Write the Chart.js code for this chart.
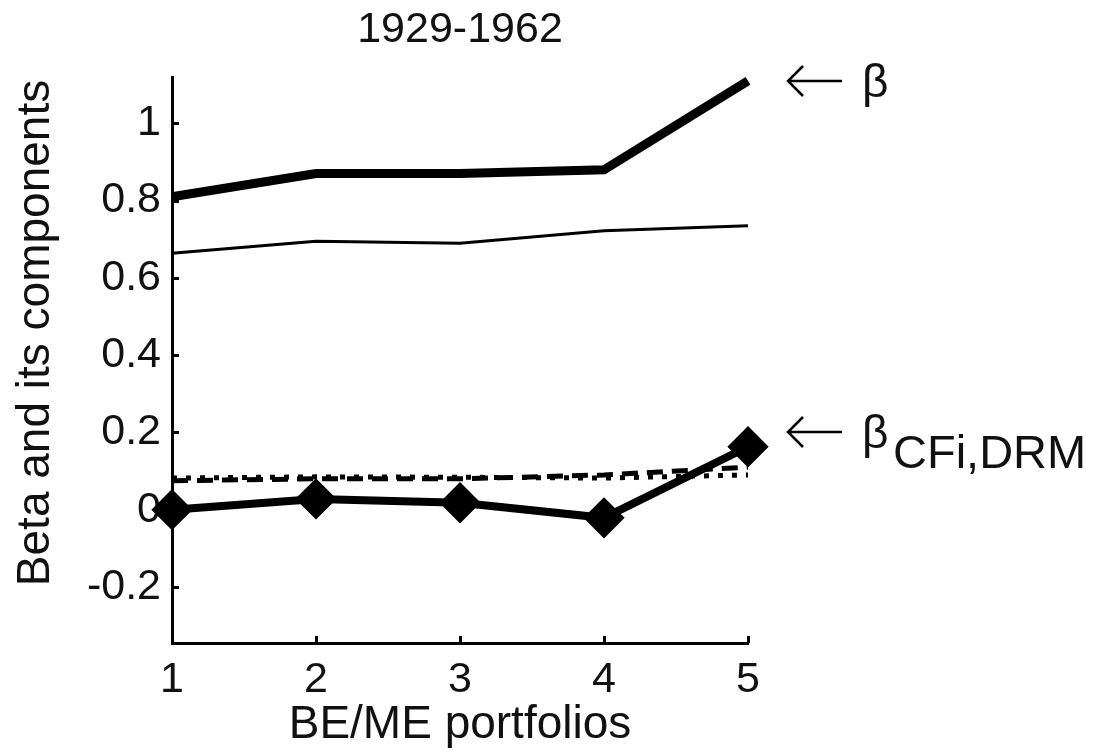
<!DOCTYPE html>
<html>
<head>
<meta charset="utf-8">
<script src="https://cdn.jsdelivr.net/npm/chart.js@4/dist/chart.umd.min.js"></script>
<style>
  html, body { margin: 0; padding: 0; background: #fff; }
  #wrap { width: 1093px; height: 753px; position: relative; }
</style>
</head>
<body>
<div id="wrap"><canvas id="c" width="1093" height="753"></canvas></div>
<script>
// ---- data ----
const categories = ['1', '2', '3', '4', '5'];
const betaTotal   = [0.81, 0.87, 0.87, 0.88, 1.11];
const betaThin    = [0.664, 0.695, 0.69, 0.722, 0.735];
const betaCFiDRM  = [0.0, 0.028, 0.018, -0.021, 0.163];
const betaDashed  = [0.075, 0.08, 0.08, 0.09, 0.11];
const betaDotted  = [0.082, 0.085, 0.084, 0.082, 0.09];
const yTickValues = [-0.2, 0, 0.2, 0.4, 0.6, 0.8, 1];
const titleText = '1929-1962';
const xTitleText = 'BE/ME portfolios';
const yTitleText = 'Beta and its components';

const FONT = "'Liberation Sans', Arial, sans-serif";

const decorPlugin = {
  id: 'decor',
  afterDraw(chart) {
    const ctx = chart.ctx;
    const ca = chart.chartArea;
    const xs = chart.scales.x, ys = chart.scales.y;
    ctx.save();
    // inward tick marks
    ctx.strokeStyle = '#000';
    ctx.lineWidth = 3;
    ctx.beginPath();
    yTickValues.forEach(v => {
      const py = Math.round(ys.getPixelForValue(v)) + 0.5;
      ctx.moveTo(ca.left, py);
      ctx.lineTo(ca.left + 7, py);
    });
    categories.forEach((c, i) => {
      const px = Math.round(xs.getPixelForValue(i)) + 0.5;
      ctx.moveTo(px, ca.bottom);
      ctx.lineTo(px, ca.bottom - 7);
    });
    ctx.stroke();

    // title
    ctx.fillStyle = '#111';
    ctx.font = '43px ' + FONT;
    ctx.textAlign = 'center';
    ctx.textBaseline = 'middle';
    ctx.fillText(titleText, (ca.left + ca.right) / 2, 30);

    // y title
    ctx.save();
    ctx.translate(36, 333);
    ctx.rotate(-Math.PI / 2);
    ctx.font = '46px ' + FONT;
    ctx.fillText(yTitleText, 0, 0);
    ctx.restore();

    // annotations
    ctx.textAlign = 'left';
    ctx.textBaseline = 'alphabetic';
    ctx.font = '46px ' + FONT;
    const arrow = (x0, x1, y) => {
      ctx.lineWidth = 2.5;
      ctx.beginPath();
      ctx.moveTo(x0, y); ctx.lineTo(x1, y);
      ctx.moveTo(x0 + 15, y - 15); ctx.lineTo(x0, y); ctx.lineTo(x0 + 15, y + 15);
      ctx.stroke();
    };
    arrow(788, 842, 81);
    ctx.fillText('β', 862, 97);
    arrow(788, 842, 432);
    ctx.fillText('β', 862, 448);
    ctx.font = '47px ' + FONT;
    ctx.fillText('CFi,DRM', 893, 468);
    ctx.restore();
  }
};

new Chart(document.getElementById('c'), {
  type: 'line',
  data: {
    labels: categories,
    datasets: [
      { data: betaCFiDRM, borderColor: '#000', backgroundColor: '#000', borderWidth: 8,
        pointStyle: 'rectRot', pointRadius: 15, pointHoverRadius: 15, tension: 0, clip: false },
      { data: betaTotal, borderColor: '#000', borderWidth: 9, pointRadius: 0, tension: 0, clip: false },
      { data: betaThin, borderColor: '#000', borderWidth: 3, pointRadius: 0, tension: 0, clip: false },
      { data: betaDashed, borderColor: '#000', borderWidth: 5, borderDash: [16, 9], pointRadius: 0, tension: 0, clip: false },
      { data: betaDotted, borderColor: '#000', borderWidth: 5, borderDash: [5, 9], pointRadius: 0, tension: 0, clip: false }
    ]
  },
  options: {
    responsive: false,
    animation: false,
    devicePixelRatio: 1,
    layout: { padding: { left: 0, top: 77, right: 345, bottom: 0 } },
    plugins: { legend: { display: false }, tooltip: { enabled: false }, title: { display: false } },
    scales: {
      x: {
        type: 'category',
        offset: false,
        grid: { display: true, drawOnChartArea: false, drawTicks: false },
        border: { display: true, color: '#000', width: 3 },
        ticks: { color: '#111', font: { family: FONT, size: 43 }, padding: 11, maxRotation: 0 },
        title: { display: true, text: xTitleText, color: '#111', font: { family: FONT, size: 46 }, padding: { top: 0, bottom: 0 } },
        afterFit(s) { s.height = 110; }
      },
      y: {
        type: 'linear',
        min: -0.345,
        max: 1.12,
        grid: { display: true, drawOnChartArea: false, drawTicks: false },
        border: { display: true, color: '#000', width: 3 },
        ticks: {
          color: '#111', font: { family: FONT, size: 43 }, padding: 11,
          callback: v => String(Math.round(v * 10) / 10)
        },
        afterBuildTicks(s) { s.ticks = yTickValues.map(v => ({ value: v })); },
        afterFit(s) { s.width = 172; }
      }
    }
  },
  plugins: [decorPlugin]
});
</script>
</body>
</html>
